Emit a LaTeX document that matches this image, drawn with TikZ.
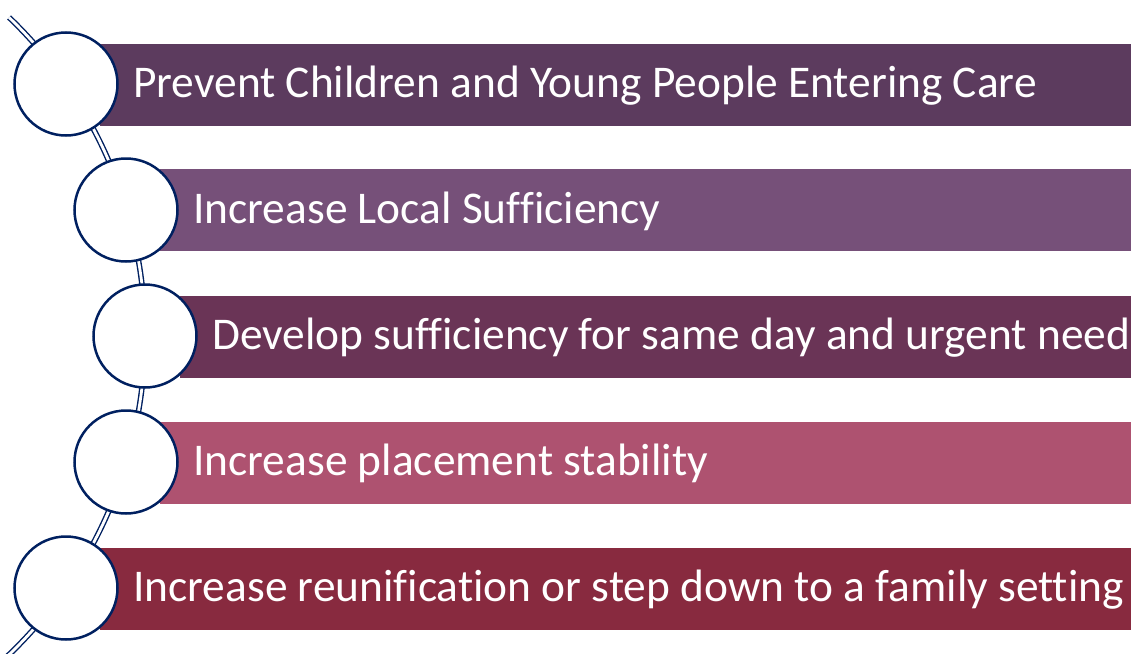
\documentclass[tikz,border=0pt]{standalone}
\usepackage{fontspec}
\setmainfont{Carlito}[Ligatures=NoCommon]
\definecolor{navy}{RGB}{0,32,96}
\definecolor{cA}{RGB}{92,59,94}
\definecolor{cB}{RGB}{118,80,121}
\definecolor{cC}{RGB}{106,52,86}
\definecolor{cD}{RGB}{174,82,112}
\definecolor{cE}{RGB}{136,42,63}
\begin{document}
\begin{tikzpicture}[x=1pt,y=-1pt,
  bar/.style={rectangle,draw=none,inner sep=0pt,minimum height=82pt,anchor=west},
  ring/.style={circle,draw=navy,line width=2.5pt,fill=white,minimum size=103pt,inner sep=0pt},
  lbl/.style={anchor=base west,text=white,font=\fontsize{45.4}{50}\selectfont,inner sep=0pt},
  string/.style={draw=navy,line width=1.4pt,double=white,double distance=2.8pt}]
\useasboundingbox (0,0) rectangle (1131,653);
\clip (0,0) rectangle (1131,653);
\draw[string] (-296.4,336) ++(-46.2:441.4) coordinate (top) arc[start angle=-46.2,end angle=50,radius=441.4];
\node[bar,fill=cA,minimum width=1031pt] (b1) at (100,84.5) {};
\node[bar,fill=cB,minimum width=971pt] (b2) at (160,210) {};
\node[bar,fill=cC,minimum width=951pt] (b3) at (180,336.5) {};
\node[bar,fill=cD,minimum width=971pt] (b4) at (160,462.5) {};
\node[bar,fill=cE,minimum width=1031pt] (b5) at (100,588.5) {};
\node[ring] (c1) at (66,84) {};
\node[ring] (c2) at (126,210) {};
\node[ring] (c3) at (145,336) {};
\node[ring] (c4) at (126,462) {};
\node[ring] (c5) at (66,588) {};
\node[lbl] (t1) at (133,97) {Prevent Children and Young People Entering Care};
\node[lbl] (t2) at (193,223) {Increase Local Sufficiency};
\node[lbl] (t3) at (212,349) {Develop sufficiency for same day and urgent need};
\node[lbl] (t4) at (193,475) {Increase placement stability};
\node[lbl] (t5) at (133,601) {Increase reunification or step down to a family setting};
\end{tikzpicture}
\end{document}
